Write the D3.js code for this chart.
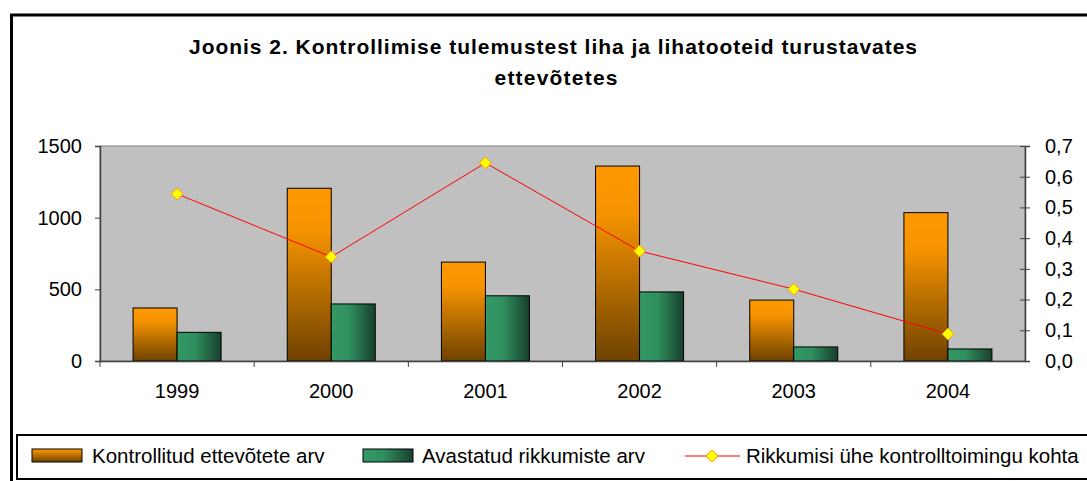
<!DOCTYPE html>
<html>
<head>
<meta charset="utf-8">
<script src="https://cdnjs.cloudflare.com/ajax/libs/d3/7.8.5/d3.min.js"></script>
<style>
body { margin: 0; background: #fff; }
svg { display: block; font-family: "Liberation Sans", Arial, sans-serif; }
.legend text { font-size: 20.5px; fill: #000; }
</style>
</head>
<body>
<svg id="chart" width="1087" height="481"></svg>
<script>
// data
var years = ["1999", "2000", "2001", "2002", "2003", "2004"];
var kontrollitud = [370, 1205, 690, 1360, 425, 1035];
var rikkumised = [200, 398, 455, 482, 98, 84];
var suhe = [0.544, 0.339, 0.645, 0.358, 0.234, 0.088];
var leftTicks = [0, 500, 1000, 1500];
var rightTicks = [0, 0.1, 0.2, 0.3, 0.4, 0.5, 0.6, 0.7];
var legendNames = ["Kontrollitud ettevõtete arv", "Avastatud rikkumiste arv", "Rikkumisi ühe kontrolltoimingu kohta"];

var svg = d3.select("#chart");
var m = {left: 100, right: 1025, top: 146, bottom: 361};

var defs = svg.append("defs");
var gO = defs.append("linearGradient").attr("id", "gOrange").attr("x1", 0).attr("y1", 0).attr("x2", 0).attr("y2", 1);
gO.append("stop").attr("offset", "0%").attr("stop-color", "#ff9900");
gO.append("stop").attr("offset", "25%").attr("stop-color", "#f59300");
gO.append("stop").attr("offset", "100%").attr("stop-color", "#6e4200");
var gG = defs.append("linearGradient").attr("id", "gGreen").attr("x1", 0).attr("y1", 0).attr("x2", 1).attr("y2", 0);
gG.append("stop").attr("offset", "0%").attr("stop-color", "#339966");
gG.append("stop").attr("offset", "40%").attr("stop-color", "#2f8f5f");
gG.append("stop").attr("offset", "100%").attr("stop-color", "#17402c");
var gOL = defs.append("linearGradient").attr("id", "gOrangeL").attr("x1", 0).attr("y1", 0).attr("x2", 0).attr("y2", 1);
gOL.append("stop").attr("offset", "0%").attr("stop-color", "#ff9900");
gOL.append("stop").attr("offset", "100%").attr("stop-color", "#6e4200");

// outer frame
svg.append("rect").attr("x", 11.5).attr("y", 15).attr("width", 1090).attr("height", 480)
  .attr("fill", "none").attr("stroke", "#000").attr("stroke-width", 3);

// title
svg.append("text").attr("x", 553).attr("y", 54).attr("text-anchor", "middle")
  .attr("font-size", 21).attr("font-weight", "bold")
  .attr("textLength", 728).attr("lengthAdjust", "spacing")
  .text("Joonis 2. Kontrollimise tulemustest liha ja lihatooteid turustavates");
svg.append("text").attr("x", 556).attr("y", 85).attr("text-anchor", "middle")
  .attr("font-size", 21).attr("font-weight", "bold")
  .attr("textLength", 123).attr("lengthAdjust", "spacing")
  .text("ettevõtetes");

var x = d3.scaleBand().domain(years).range([m.left, m.right]);
var xs = d3.scaleBand().domain(["a", "b"]).range([0, 88]);
var y = d3.scaleLinear().domain([0, 1500]).range([m.bottom, m.top]);
var y2 = d3.scaleLinear().domain([0, 0.7]).range([m.bottom, m.top]);

// plot area
svg.append("rect").attr("x", m.left).attr("y", m.top).attr("width", m.right - m.left).attr("height", m.bottom - m.top)
  .attr("fill", "#c0c0c0").attr("stroke", "#808080").attr("stroke-width", 1);

var off = (x.bandwidth() - 88) / 2;
var g = svg.append("g");
g.selectAll(".bo").data(years).enter().append("rect")
  .attr("x", function(d) { return x(d) + off + xs("a"); })
  .attr("y", function(d, i) { return y(kontrollitud[i]); })
  .attr("width", xs.bandwidth())
  .attr("height", function(d, i) { return y(0) - y(kontrollitud[i]); })
  .attr("fill", "url(#gOrange)").attr("stroke", "#000").attr("stroke-width", 1);
g.selectAll(".bg").data(years).enter().append("rect")
  .attr("x", function(d) { return x(d) + off + xs("b"); })
  .attr("y", function(d, i) { return y(rikkumised[i]); })
  .attr("width", xs.bandwidth())
  .attr("height", function(d, i) { return y(0) - y(rikkumised[i]); })
  .attr("fill", "url(#gGreen)").attr("stroke", "#000").attr("stroke-width", 1);

// line
var line = d3.line()
  .x(function(d, i) { return x(years[i]) + x.bandwidth() / 2; })
  .y(function(d) { return y2(d); });
g.append("path").datum(suhe).attr("d", line).attr("fill", "none").attr("stroke", "#ff0000").attr("stroke-width", 1);
g.selectAll(".mk").data(suhe).enter().append("path")
  .attr("d", d3.symbol().type(d3.symbolDiamond2).size(90))
  .attr("transform", function(d, i) { return "translate(" + (x(years[i]) + x.bandwidth() / 2) + "," + y2(d) + ")"; })
  .attr("fill", "#ffff00").attr("stroke", "#ff9900").attr("stroke-width", 1);

// axes
var axL = svg.append("g").attr("transform", "translate(" + m.left + ",0)")
  .call(d3.axisLeft(y).tickValues(leftTicks).tickSize(5).tickPadding(13).tickFormat(d3.format("d")));
var axR = svg.append("g").attr("transform", "translate(" + m.right + ",0)")
  .call(d3.axisRight(y2).tickValues(rightTicks).tickSize(5).tickPadding(15)
    .tickFormat(function(d) { return d3.format(".1f")(d).replace(".", ","); }));
axR.selectAll(".tick line").attr("x1", -5);
var axB = svg.append("g").attr("transform", "translate(0," + m.bottom + ")")
  .call(d3.axisBottom(x).tickSize(0).tickPadding(30));
[axL, axR, axB].forEach(function(a) {
  a.attr("font-family", "Liberation Sans, Arial, sans-serif").attr("font-size", 20);
  a.select(".domain").attr("stroke", "#404040").attr("stroke-width", 1.5);
  a.selectAll(".tick line").attr("stroke", "#404040");
  a.selectAll(".tick text").attr("fill", "#000");
});
axL.selectAll(".tick line").attr("x2", -5).attr("x1", 0);
axB.selectAll(".tick text").attr("dy", "0.35em");
// category separators
svg.append("g").selectAll("line").data(years.slice(1)).enter().append("line")
  .attr("x1", function(d) { return x(d); }).attr("x2", function(d) { return x(d); })
  .attr("y1", m.bottom).attr("y2", m.bottom + 6).attr("stroke", "#404040");
svg.append("line").attr("x1", m.left).attr("x2", m.left).attr("y1", m.bottom).attr("y2", m.bottom + 6).attr("stroke", "#404040");

// legend
var lg = svg.append("g").attr("class", "legend");
lg.append("rect").attr("x", 17).attr("y", 435).attr("width", 1090).attr("height", 44)
  .attr("fill", "#fff").attr("stroke", "#000").attr("stroke-width", 2);
lg.append("rect").attr("x", 32).attr("y", 449).attr("width", 50).attr("height", 13)
  .attr("fill", "url(#gOrangeL)").attr("stroke", "#000").attr("stroke-width", 1);
lg.append("text").attr("x", 92).attr("y", 463).text(legendNames[0]);
lg.append("rect").attr("x", 363).attr("y", 449).attr("width", 50).attr("height", 13)
  .attr("fill", "url(#gGreen)").attr("stroke", "#000").attr("stroke-width", 1);
lg.append("text").attr("x", 422).attr("y", 463).text(legendNames[1]);
lg.append("line").attr("x1", 685).attr("x2", 740).attr("y1", 456).attr("y2", 456).attr("stroke", "#ff0000");
lg.append("path").attr("d", d3.symbol().type(d3.symbolDiamond2).size(90)).attr("transform", "translate(712,456)")
  .attr("fill", "#ffff00").attr("stroke", "#ff9900");
lg.append("text").attr("x", 746).attr("y", 463).text(legendNames[2]);
</script>
</body>
</html>
